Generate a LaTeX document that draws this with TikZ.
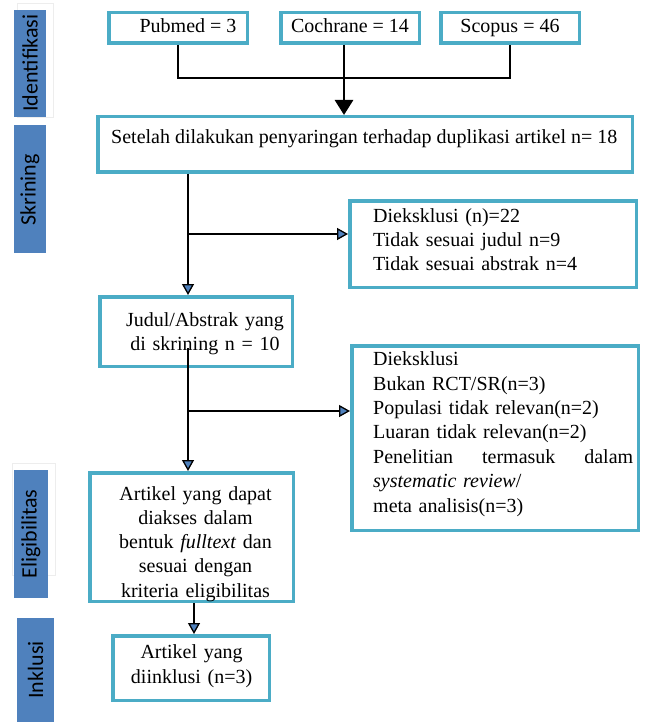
\documentclass[tikz,border=0pt]{standalone}
\usepackage{fontspec}
\setmainfont{Liberation Serif}
\newfontfamily\labfont{Carlito}
\usetikzlibrary{arrows.meta}
\definecolor{boxc}{HTML}{4BACC6}
\definecolor{barc}{HTML}{4F81BD}
\definecolor{tipc}{HTML}{4F81BD}
\begin{document}
\begin{tikzpicture}[x=1pt,y=-1pt,
  box/.style={draw=boxc,line width=3.5pt,fill=white,inner sep=0pt},
  txt/.style={inner sep=0pt,font=\fontsize{20}{24.5}\selectfont},
  bar/.style={fill=barc,draw=none},
  shadowbox/.style={fill=white,draw=black!7,line width=0.8pt},
  barlab/.style={rotate=90,inner sep=0pt,text=black,font=\labfont\fontsize{22}{26}\selectfont},
  conn/.style={line width=2.8pt,draw=black},
  stip/.style={-{Triangle[width=12pt,length=11pt,fill=tipc,line width=1.3pt]}},
  btip/.style={-{Triangle[width=18pt,length=15pt]}},
]
\useasboundingbox (0,0) rectangle (645,722);

% side bars
\draw[shadowbox] (17,3) rectangle (53,117);
\fill[bar] (14,10) rectangle (46,117);
\node[barlab] (lid) at (30,63) {Identifikasi};
\fill[bar] (14,125) rectangle (46,253);
\node[barlab] (lsk) at (30,190) {Skrining};
\draw[shadowbox] (12,463) rectangle (55,575);
\fill[bar] (14,470) rectangle (48,598);
\node[barlab] (lel) at (31,534) {Eligibilitas};
\fill[bar] (17,618) rectangle (54,722);
\node[barlab] (lin) at (35.5,670) {Inklusi};

% boxes
\node[box,minimum width=138.5pt,minimum height=30.5pt] (pub) at (178,28) {};
\node[box,minimum width=138.5pt,minimum height=30.5pt] (coch) at (350,28) {};
\node[box,minimum width=138.5pt,minimum height=30.5pt] (scop) at (510,28) {};
\node[box,minimum width=534.5pt,minimum height=55.5pt] (set) at (365,144.5) {};
\node[box,minimum width=286.5pt,minimum height=86.5pt] (diek1) at (493,244) {};
\node[box,minimum width=192.5pt,minimum height=69.5pt] (judul) at (196,331.5) {};
\node[box,minimum width=286.5pt,minimum height=184.5pt] (diek2) at (495,438) {};
\node[box,minimum width=203.5pt,minimum height=128.5pt] (artikel) at (191.5,537) {};
\node[box,minimum width=156.5pt,minimum height=64.5pt] (inkl) at (191,668) {};

% texts
\node[txt,anchor=base] (tpub) at (188,33) {Pubmed = 3};
\node[txt,anchor=base] (tcoch) at (350,33) {Cochrane = 14};
\node[txt,anchor=base] (tscop) at (510,33) {Scopus = 46};
\node[txt,anchor=base west] (tset) at (111,144) {Setelah dilakukan penyaringan terhadap duplikasi artikel n= 18};
\node[txt,anchor=base west,text width=250pt,align=left,font=\fontsize{20}{24}\selectfont] (td1) at (373,222.7)
  {Dieksklusi (n)=22\\Tidak sesuai judul n=9\\Tidak sesuai abstrak n=4};
\node[txt,anchor=base,text width=190pt,align=center,font=\fontsize{20}{24}\selectfont] (tj) at (205,326.7)
  {Judul/Abstrak yang\\di skrining n = 10};
\node[txt,anchor=base west,text width=262pt,align=left,font=\fontsize{20}{24.4}\selectfont] (td2) at (373,365.7)
  {Dieksklusi\\Bukan RCT/SR(n=3)\\Populasi tidak relevan(n=2)\\Luaran tidak relevan(n=2)\\\leavevmode\hbox to 260pt{Penelitian\hfill termasuk\hfill dalam}\\\textit{systematic review}/\\meta analisis(n=3)};
\node[txt,anchor=base,text width=200pt,align=center,font=\fontsize{20}{24.3}\selectfont] (ta) at (195.5,500)
  {Artikel yang dapat\\diakses dalam\\bentuk \textit{fulltext} dan\\sesuai dengan\\kriteria eligibilitas};
\node[txt,anchor=base,text width=150pt,align=center,font=\fontsize{20}{25}\selectfont] (ti) at (191.6,658)
  {Artikel yang\\diinklusi (n=3)};

% connectors
\coordinate (jp) at (178,78);
\coordinate (jc) at (344,78);
\coordinate (js) at (510,78);
\draw[conn] (pub.south) -- (jp) -- (js) -- (scop.south);
\draw[conn] ([xshift=-6pt]coch.south) -- (jc);
\draw[conn,btip] (jc) -- ([xshift=-21pt]set.north);

\coordinate (v1) at (188,174);
\coordinate (b1) at (188,234);
\draw[conn,stip] (v1) -- (judul.north -| v1);
\draw[conn,stip] (b1) -- (b1 -| diek1.west);

\coordinate (v2) at (188,348);
\coordinate (b2) at (188,411);
\draw[conn,stip] (v2) -- (artikel.north -| v2);
\draw[conn,stip] (b2) -- (b2 -| diek2.west);

\draw[conn,stip] ([xshift=2.5pt]artikel.south) -- ([xshift=3pt]inkl.north);
\end{tikzpicture}
\end{document}
